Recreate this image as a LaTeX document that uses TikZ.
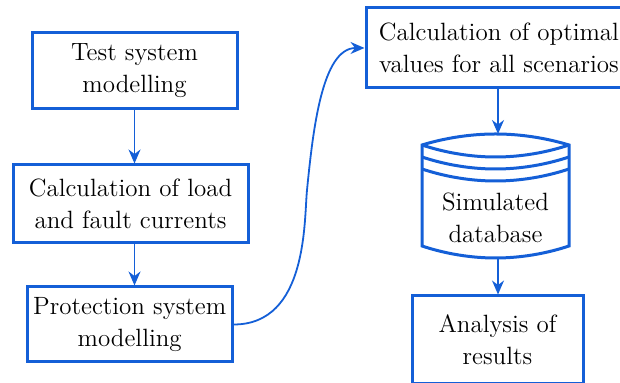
\documentclass[tikz,border=0pt]{standalone}
\usetikzlibrary{arrows.meta}
\definecolor{flowblue}{RGB}{20,95,215}
\begin{document}
\begin{tikzpicture}[x=0.5pt,y=-0.5pt,
  lbl/.style={font=\fontsize{12.5}{16}\selectfont},
  box/.style={lbl,draw=flowblue,line width=1.5pt,inner sep=0pt,align=center},
  flow/.style={draw=flowblue,line width=0.9pt,-{Stealth[length=7pt,width=6pt]}},
  dbline/.style={draw=flowblue,line width=1.5pt}]
\useasboundingbox (0,0) rectangle (620,383);

% left column
\node[box,minimum width=102.5pt,minimum height=38pt] (model) at (134.5,71) {Test system\\modelling};
\node[box,minimum width=117.5pt,minimum height=39pt] (calc) at (130.5,204) {Calculation of load\\and fault currents};
\node[box,minimum width=102.5pt,minimum height=37.5pt] (prot) at (129.7,324.5) {Protection system\\modelling};

% right column
\node[box,minimum width=133pt,minimum height=40pt] (optim) at (499,48) {Calculation of optimal\\values for all scenarios};
\node[box,minimum width=85.5pt,minimum height=44pt] (anal) at (497.5,340) {Analysis of\\results};

% database cylinder
\draw[dbline] (422,145) parabola bend (495.5,134) (569,145)
  -- (569,246) parabola bend (495.5,258) (422,246) -- cycle;
\draw[dbline] (422,145) parabola bend (495.5,157) (569,145);
\draw[dbline] (422,157) parabola bend (495.5,169) (569,157);
\draw[dbline] (422,169) parabola bend (495.5,181) (569,169);
\node[lbl,align=center] (db) at (495.5,218) {Simulated\\database};
\coordinate (dbtop) at (498,134);
\coordinate (dbbot) at (498,258);

% connectors
\draw[flow] (model.south) -- (model.south |- calc.north);
\draw[flow] (model.south |- calc.south) -- (model.south |- prot.north);
\coordinate (mid) at (307,190);
\draw[flow] (prot.east) .. controls (308,324.5) and (304,220) .. (mid)
  .. controls (313,130) and (322,48) .. (optim.west);
\draw[flow] (optim.south -| dbtop) -- (dbtop);
\draw[flow] (dbbot) -- (dbbot |- anal.north);
\end{tikzpicture}
\end{document}
